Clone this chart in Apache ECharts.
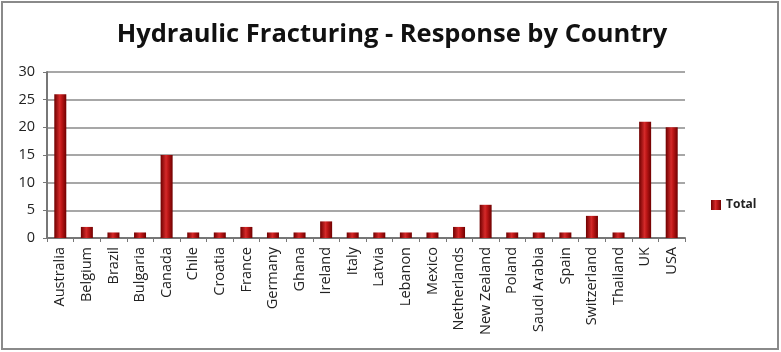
<!DOCTYPE html>
<html><head><meta charset="utf-8">
<script src="https://cdn.jsdelivr.net/npm/echarts@6/dist/echarts.min.js"></script>
<style>html,body{margin:0;padding:0;background:#fff}#c{width:781px;height:352px}</style>
</head><body><div id="c"></div>
<script>
const categories = ["Australia","Belgium","Brazil","Bulgaria","Canada","Chile","Croatia","France","Germany","Ghana","Ireland","Italy","Latvia","Lebanon","Mexico","Netherlands","New Zealand","Poland","Saudi Arabia","Spain","Switzerland","Thailand","UK","USA"];
const totals = [26,2,1,1,15,1,1,2,1,1,3,1,1,1,1,2,6,1,1,1,4,1,21,20];
const yTicks = [0,5,10,15,20,25,30];

const chart = echarts.init(document.getElementById('c'), null, {renderer:'canvas'});
const barColor = new echarts.graphic.LinearGradient(0,0,1,0,[
  {offset:0,color:'#6e0000'},{offset:0.45,color:'#d42a2a'},{offset:0.6,color:'#c01818'},{offset:1,color:'#700000'}]);
chart.setOption({
  animation:false,
  title:{text:'Hydraulic Fracturing - Response by Country',left:387,textAlign:'center',top:17,
    textStyle:{fontFamily:'Open Sans',fontWeight:'bold',fontSize:25.5,color:'#111'}},
  graphic:[{type:'rect',shape:{x:2,y:2,width:776,height:347},style:{fill:'none',stroke:'#8a8a8a',lineWidth:2},silent:true}],
  legend:{data:['Total'],left:706,top:194,itemWidth:10,itemHeight:10,itemGap:3,
    icon:'rect',textStyle:{fontFamily:'Open Sans',fontWeight:'bold',fontSize:12,color:'#222'}},
  grid:{left:47,right:96,top:72,bottom:114,containLabel:false},
  xAxis:{type:'category',data:categories,
    axisLine:{lineStyle:{color:'#777',width:2}},
    axisTick:{show:true,length:4,lineStyle:{color:'#777'}},
    axisLabel:{rotate:90,interval:0,fontFamily:'Open Sans',fontSize:14.5,color:'#222',margin:9}},
  yAxis:{type:'value',min:0,max:30,interval:5,
    axisLine:{show:true,lineStyle:{color:'#777',width:2}},
    axisTick:{show:true,length:4,lineStyle:{color:'#777'}},
    splitLine:{lineStyle:{color:'#8a8a8a',width:1.5}},
    axisLabel:{fontFamily:'Open Sans',fontSize:14.5,color:'#222',margin:12,
      formatter:v=>yTicks.includes(v)?String(v):''}},
  series:[{name:'Total',type:'bar',data:totals,barWidth:12,
    itemStyle:{color:barColor}}]
});
</script></body></html>
